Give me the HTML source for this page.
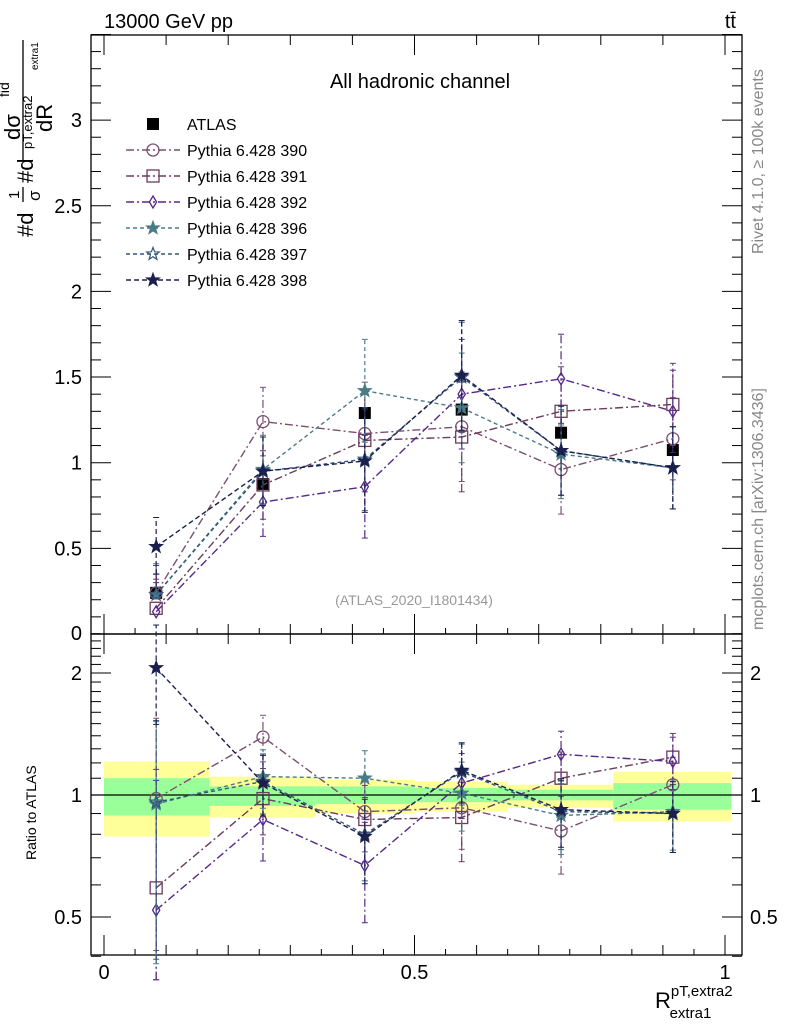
<!DOCTYPE html>
<html><head><meta charset="utf-8"><style>
body{margin:0;background:#fff;}
svg{font-family:"Liberation Sans",sans-serif;}
</style></head><body>
<svg id="chart" width="786" height="1024" viewBox="0 0 786 1024" xmlns="http://www.w3.org/2000/svg">
<text x="104" y="28" font-size="20">13000 GeV pp</text>
<text x="736" y="28" font-size="20" text-anchor="end">tt̄</text>
<text x="420" y="88" font-size="20" text-anchor="middle">All hadronic channel</text>
<text x="414" y="605" font-size="14" fill="#999" text-anchor="middle">(ATLAS_2020_I1801434)</text>
<text transform="translate(763,254) rotate(-90)" font-size="16" fill="#888">Rivet 4.1.0, ≥ 100k events</text>
<text transform="translate(763,630) rotate(-90)" font-size="16" fill="#888">mcplots.cern.ch [arXiv:1306.3436]</text>
<g transform="translate(33,237) rotate(-90)">
 <text x="0" y="0" font-size="22">#d</text>
 <text x="38" y="-14" font-size="15">1</text>
 <line x1="35" x2="50" y1="-10" y2="-10" stroke="#000" stroke-width="1.3"/>
 <text x="36" y="7" font-size="17">σ</text>
 <text x="54" y="0" font-size="22">#d</text>
 <line x1="76" x2="197" y1="-10" y2="-10" stroke="#000" stroke-width="1.3"/>
 <text x="97" y="-13" font-size="22">dσ</text>
 <text x="140" y="-24" font-size="14">fid</text>
 <text x="88" y="-1" font-size="13">pT,extra2</text>
 <text x="167" y="5" font-size="10">extra1</text>
 <text x="105" y="19" font-size="22">dR</text>
</g>
<text transform="translate(36,860) rotate(-90)" font-size="14">Ratio to ATLAS</text>
<text x="655" y="1008" font-size="22">R<tspan font-size="15" dy="-12">pT,extra2</tspan><tspan font-size="15" dx="-63" dy="22">extra1</tspan></text>
<g id="plot"></g>
</svg>
<script>
const xBins=[0.084,0.256,0.42,0.576,0.736,0.916];
const bandEdges=[0,0.17,0.34,0.5,0.65,0.82,1.01];
const greenLo=[0.89,0.94,0.95,0.96,0.97,0.92];
const greenHi=[1.10,1.05,1.05,1.04,1.03,1.07];
const yellowLo=[0.79,0.88,0.90,0.91,0.93,0.86];
const yellowHi=[1.21,1.11,1.09,1.08,1.06,1.14];
const atlas=[0.24,0.876,1.29,1.31,1.175,1.074];
const errs=[0.17,0.2,0.3,0.32,0.26,0.24];
const s390=[0.24,1.24,1.17,1.21,0.96,1.14];
const s391=[0.15,0.87,1.13,1.15,1.30,1.34];
const s392=[0.13,0.77,0.86,1.40,1.49,1.30];
const s396=[0.23,0.96,1.42,1.32,1.05,0.97];
const s397=[0.23,0.95,1.02,1.50,1.07,0.97];
const s398=[0.51,0.95,1.01,1.51,1.07,0.97];
const r390=[0.98,1.39,0.91,0.93,0.815,1.06];
const r391=[0.59,0.98,0.87,0.88,1.10,1.24];
const r392=[0.52,0.87,0.67,1.07,1.26,1.21];
const r396=[0.95,1.11,1.10,1.01,0.89,0.91];
const r397=[0.96,1.08,0.80,1.14,0.91,0.90];
const r398=[2.06,1.07,0.79,1.15,0.92,0.90];
const yTicks=["0.5","1","1.5","2","2.5","3"];
const rTicks=["0.5","1","2"];
const xTicks=["0","0.5","1"];
const series=[
 {name:"Pythia 6.428 390",v:s390,r:r390,c:"#7b4f72",m:"circle",d:"8,3,2,3"},
 {name:"Pythia 6.428 391",v:s391,r:r391,c:"#6b3c5c",m:"square",d:"8,3,2,3"},
 {name:"Pythia 6.428 392",v:s392,r:r392,c:"#55288a",m:"diamond",d:"8,3,2,3"},
 {name:"Pythia 6.428 396",v:s396,r:r396,c:"#4a7c88",m:"fstar",d:"4,3"},
 {name:"Pythia 6.428 397",v:s397,r:r397,c:"#34577a",m:"ostar",d:"4,3"},
 {name:"Pythia 6.428 398",v:s398,r:r398,c:"#1b1f4e",m:"fstar",d:"5,3"}];
const L=91,R=742,T=35,MB=634,RB=955;
const X=v=>104+v*621;
const Y=v=>634-v*171.3;
const RY=v=>795-176*Math.log(v);
const NS="http://www.w3.org/2000/svg";
const g=document.getElementById('plot');
function el(t,a,p){const e=document.createElementNS(NS,t);for(const k in a)e.setAttribute(k,a[k]);(p||g).appendChild(e);return e;}
for(let i=0;i<6;i++){
 const x0=X(bandEdges[i]),x1=Math.min(X(bandEdges[i+1]),R);
 const yb=el('rect',{x:x0,y:RY(yellowHi[i]),width:x1-x0,height:RY(yellowLo[i])-RY(yellowHi[i]),fill:'#ffff99'});
 
 
 const gb=el('rect',{x:x0,y:RY(greenHi[i]),width:x1-x0,height:RY(greenLo[i])-RY(greenHi[i]),fill:'#99ff99'});
 
 
}
el('line',{x1:L,x2:R,y1:RY(1),y2:RY(1),stroke:'#000','stroke-width':1.2});
const f1=el('rect',{x:L,y:T,width:R-L,height:MB-T,fill:'none',stroke:'#000','stroke-width':1.3});


const f2=el('rect',{x:L,y:MB,width:R-L,height:RB-MB,fill:'none',stroke:'#000','stroke-width':1.3});


for(let k=1;k<=35;k++){const y=Y(k/10);const len=k%5==0?20:10;
 el('line',{x1:L,x2:L+len,y1:y,y2:y,stroke:'#000'});el('line',{x1:R,x2:R-len,y1:y,y2:y,stroke:'#000'});}
yTicks.forEach(t=>{const tx=el('text',{x:82,y:Y(+t)+7,'font-size':20,'text-anchor':'end'});tx.textContent=t;
 
 });
const z=el('text',{x:82,y:640,'font-size':20,'text-anchor':'end'});z.textContent="0";
for(let k=4;k<=25;k++){const v=k/10;const y=RY(v);const maj=(k==5||k==10||k==20);const len=maj?20:10;
 el('line',{x1:L,x2:L+len,y1:y,y2:y,stroke:'#000'});el('line',{x1:R,x2:R-len,y1:y,y2:y,stroke:'#000'});}
rTicks.forEach(t=>{const a=el('text',{x:82,y:RY(+t)+7,'font-size':20,'text-anchor':'end'});a.textContent=t;
 
 
 const b=el('text',{x:750,y:RY(+t)+7,'font-size':20});b.textContent=t;
 
 });
for(let k=0;k<=10;k++){const x=X(k/10);const len=k%5==0?20:10;
 el('line',{x1:x,x2:x,y1:MB,y2:MB-len,stroke:'#000'});el('line',{x1:x,x2:x,y1:T,y2:T+len,stroke:'#000'});
 el('line',{x1:x,x2:x,y1:RB,y2:RB-len,stroke:'#000'});el('line',{x1:x,x2:x,y1:MB,y2:MB+len,stroke:'#000'});}
for(let k=1;k<20;k+=2){const x=X(k/20);
 el('line',{x1:x,x2:x,y1:RB,y2:RB-6,stroke:'#000'});el('line',{x1:x,x2:x,y1:MB,y2:MB-6,stroke:'#000'});}
xTicks.forEach(t=>{const tx=el('text',{x:X(+t),y:979,'font-size':20,'text-anchor':'middle'});tx.textContent=t;
 
 });
function marker(m,x,y,c,s,parent){
 if(m=='circle')return el('circle',{cx:x,cy:y,r:s,fill:'none',stroke:c,'stroke-width':1.3},parent);
 if(m=='square')return el('rect',{x:x-s,y:y-s,width:2*s,height:2*s,fill:'none',stroke:c,'stroke-width':1.3},parent);
 if(m=='fsquare')return el('rect',{x:x-s,y:y-s,width:2*s,height:2*s,fill:c},parent);
 if(m=='diamond')return el('polygon',{points:`${x},${y-s} ${x+s*0.6},${y} ${x},${y+s} ${x-s*0.6},${y}`,fill:'none',stroke:c,'stroke-width':1.3},parent);
 let pts=[];for(let i=0;i<10;i++){const a=-Math.PI/2+i*Math.PI/5;const rr=i%2?s*0.45:s*1.1;pts.push((x+rr*Math.cos(a)).toFixed(1)+','+(y+rr*Math.sin(a)).toFixed(1));}
 return el('polygon',{points:pts.join(' '),fill:m=='fstar'?c:'none',stroke:c,'stroke-width':1.2},parent);
}
function drawSeries(vals,rel,yf,c,dash,m,name,isData){
 const grp=el('g',{});
 
 
 if(!isData){el('polyline',{points:vals.map((v,i)=>X(xBins[i])+','+yf(v)).join(' '),fill:'none',stroke:c,'stroke-width':1.4,'stroke-dasharray':dash},grp);}
 vals.forEach((v,i)=>{const e=rel[i];const x=X(xBins[i]);
  const y1=yf(Math.max(v-e,0.35)),y2=yf(v+e);
  el('line',{x1:x,x2:x,y1:y1,y2:y2,stroke:c,'stroke-width':1.2,'stroke-dasharray':isData?'':dash},grp);
  el('line',{x1:x-3,x2:x+3,y1:y1,y2:y1,stroke:c},grp);el('line',{x1:x-3,x2:x+3,y1:y2,y2:y2,stroke:c},grp);
  marker(m,x,yf(v),c,6,grp);});
}
drawSeries(atlas,errs.map(()=>0),Y,'#000','', 'fsquare','atlas-data',true);
series.forEach(s=>{
 drawSeries(s.v,errs,Y,s.c,s.d,s.m,'series-'+s.name.split(' ')[2],false);
 drawSeries(s.r,errs.map((e,i)=>e/atlas[i]*0.8),RY,s.c,s.d,s.m,'ratio-'+s.name.split(' ')[2],false);
});
const lg=el('g',{});


const le=el('g',{},lg);


marker('fsquare',153,124,'#000',6,le);
const at=el('text',{x:187,y:130,'font-size':16},le);at.textContent='ATLAS';
series.forEach((s,i)=>{const y=150+i*26;const eg=el('g',{},lg);
 
 
 el('line',{x1:126,x2:180,y1:y,y2:y,stroke:s.c,'stroke-width':1.4,'stroke-dasharray':s.d},eg);
 marker(s.m,153,y,s.c,6,eg);
 const t=el('text',{x:187,y:y+6,'font-size':16},eg);t.textContent=s.name;});
</script>
</body></html>
